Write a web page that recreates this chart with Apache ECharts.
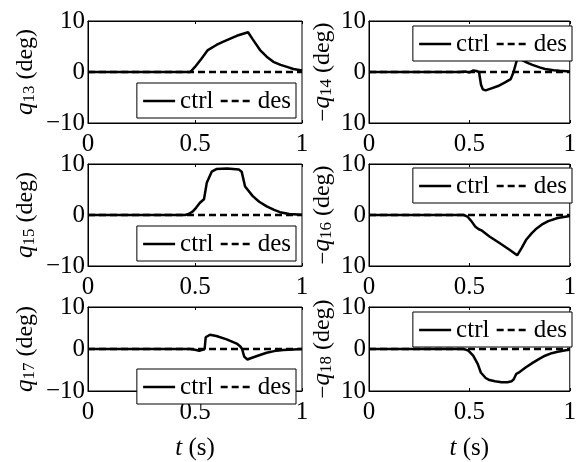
<!DOCTYPE html>
<html>
<head>
<meta charset="utf-8">
<script src="https://cdn.jsdelivr.net/npm/echarts@6/dist/echarts.min.js"></script>
<style>
html,body{margin:0;padding:0;background:#fff;}
#c{width:579px;height:462px;}
</style>
</head>
<body>
<div id="c"></div>
<script>
// ---- data (t in s, angle in deg) ----
const joints = ['13', '14', '15', '16', '17', '18'];
const xTicks = [0, 0.5, 1];
const yTicksLeft = { '-10': '−10', '0': '0', '10': '10' };
const yTicksRight = { '-10': '10', '0': '0', '10': '10' };
const legendNames = ['ctrl', 'des'];

const q13 = [[0,0],[0.478,0],[0.50,1.0],[0.53,2.6],[0.56,4.3],[0.60,5.3],[0.63,5.9],[0.695,7.1],[0.748,7.8],[0.77,6.4],[0.804,4.3],[0.835,3.0],[0.866,2.0],[0.90,1.4],[0.93,1.0],[0.96,0.6],[1,0.3]];
const q14 = [[0,0],[0.45,0],[0.48,0.1],[0.50,-0.1],[0.52,0.3],[0.535,0.2],[0.548,0],[0.558,-2.5],[0.567,-3.4],[0.581,-3.6],[0.61,-3.2],[0.643,-2.75],[0.68,-2.0],[0.706,-1.4],[0.72,0],[0.737,2.4],[0.75,2.9],[0.765,2.3],[0.79,1.8],[0.814,1.4],[0.85,0.9],[0.877,0.6],[0.92,0.35],[0.95,0.25],[1,0.1]];
const q15 = [[0,0],[0.453,0],[0.47,0.2],[0.49,0.7],[0.505,1.4],[0.523,2.4],[0.542,3.1],[0.555,6.3],[0.578,8.5],[0.60,9.0],[0.65,9.1],[0.705,8.9],[0.718,8.5],[0.734,5.6],[0.77,3.7],[0.80,2.6],[0.835,1.7],[0.87,1.0],[0.897,0.55],[0.94,0.2],[1,0.05]];
const q16 = [[0,0],[0.472,0],[0.49,-0.3],[0.51,-1.2],[0.53,-2.3],[0.547,-2.8],[0.56,-3.0],[0.60,-4.2],[0.65,-5.5],[0.70,-6.8],[0.738,-7.9],[0.76,-6.5],[0.784,-4.8],[0.81,-3.6],[0.83,-2.8],[0.86,-1.9],[0.893,-1.2],[0.94,-0.6],[1,-0.2]];
const q17 = [[0,0],[0.477,0],[0.50,-0.2],[0.52,-0.4],[0.535,-0.2],[0.545,0],[0.55,2.8],[0.57,3.4],[0.60,3.1],[0.648,2.3],[0.695,1.3],[0.712,0.6],[0.72,0],[0.73,-1.8],[0.745,-2.5],[0.76,-2.2],[0.80,-1.5],[0.835,-0.9],[0.87,-0.5],[0.912,-0.25],[0.96,-0.1],[1,0]];
const q18 = [[0,0],[0.472,0],[0.495,-0.4],[0.519,-1.6],[0.542,-3.6],[0.557,-5.6],[0.581,-6.9],[0.60,-7.4],[0.628,-7.7],[0.66,-7.9],[0.69,-7.9],[0.71,-7.7],[0.721,-7.2],[0.734,-5.9],[0.75,-5.5],[0.78,-4.4],[0.815,-3.3],[0.85,-2.3],[0.877,-1.6],[0.91,-1.0],[0.94,-0.65],[0.98,-0.3],[1,-0.2]];
const desired = [[0,0],[1,0]];
const ctrlData = [q13, q14, q15, q16, q17, q18];

// ---- layout ----
const FONT = "'Liberation Serif', 'Times New Roman', Times, serif";
const colLeft = [88, 369];
const rowTop = [21, 164, 307];
const plotW = 214, plotH = 102;
const legendPos = [
  {right: 283, top: 83}, {right: 7, top: 26},
  {right: 283, top: 226}, {right: 7, top: 168},
  {right: 283, top: 369}, {right: 7, top: 312}
];

const grids = [], xAxes = [], yAxes = [], series = [], legends = [];
for (let i = 0; i < 6; i++) {
  const col = i % 2, row = Math.floor(i / 2);
  grids.push({left: colLeft[col], top: rowTop[row], width: plotW, height: plotH,
    show: true, borderColor: '#000', borderWidth: 1, backgroundColor: 'transparent'});
  xAxes.push({
    gridIndex: i, type: 'value', min: xTicks[0], max: xTicks[2], interval: 0.5,
    axisLine: {show: true, onZero: false, lineStyle: {color: '#000', width: 1}},
    axisTick: {show: true, inside: true, length: 3, lineStyle: {color: '#000'}},
    axisLabel: {color: '#000', fontFamily: FONT, fontSize: 25, margin: 9,
      formatter: v => String(v)},
    splitLine: {show: false},
    name: row === 2 ? '{t|t} (s)' : '',
    nameLocation: 'middle', nameGap: 45,
    nameTextStyle: {color: '#000', fontFamily: FONT, fontSize: 25,
      rich: {t: {fontStyle: 'italic', fontFamily: FONT, fontSize: 25, color: '#000'}}}
  });
  xAxes.push({
    gridIndex: i, type: 'value', position: 'top', min: 0, max: 1, interval: 0.5,
    axisLine: {show: true, onZero: false, lineStyle: {color: '#000', width: 1}},
    axisTick: {show: true, inside: true, length: 3, lineStyle: {color: '#000'}},
    axisLabel: {show: false}, splitLine: {show: false}
  });
  const tickMap = col === 0 ? yTicksLeft : yTicksRight;
  yAxes.push({
    gridIndex: i, type: 'value', min: -10, max: 10, interval: 10,
    axisLine: {show: true, onZero: false, lineStyle: {color: '#000', width: 1}},
    axisTick: {show: true, inside: true, length: 3, lineStyle: {color: '#000'}},
    axisLabel: {color: '#000', fontFamily: FONT, fontSize: 25, margin: 3,
      formatter: v => tickMap[String(v)]},
    splitLine: {show: false},
    name: (col === 1 ? '{m|−}' : '') + '{q|q}{s|' + joints[i] + '}{n| (deg)}',
    nameLocation: 'middle', nameRotate: 90,
    nameGap: col === 0 ? 50 : 34,
    nameTextStyle: {color: '#000', fontFamily: FONT, fontSize: 23,
      rich: {
        m: {fontFamily: FONT, fontSize: 23, color: '#000', verticalAlign: 'bottom', lineHeight: 24},
        q: {fontStyle: 'italic', fontFamily: FONT, fontSize: 25, color: '#000', verticalAlign: 'bottom', lineHeight: 24},
        s: {fontFamily: FONT, fontSize: 17, color: '#000', verticalAlign: 'bottom', lineHeight: 10},
        n: {fontFamily: FONT, fontSize: 24, color: '#000', verticalAlign: 'bottom', lineHeight: 24}
      }}
  });
  series.push({
    name: legendNames[0], type: 'line', xAxisIndex: 2 * i, yAxisIndex: i,
    data: ctrlData[i], symbol: 'none', smooth: false, z: 3,
    lineStyle: {color: '#000', width: 2.5}, itemStyle: {color: '#000'}
  });
  series.push({
    name: legendNames[1], type: 'line', xAxisIndex: 2 * i, yAxisIndex: i,
    data: desired, symbol: 'none', z: 4,
    lineStyle: {color: '#000', width: 2.5, type: [7, 4]}, itemStyle: {color: '#000'}
  });
  legends.push({
    data: legendNames, top: legendPos[i].top, right: legendPos[i].right,
    orient: 'horizontal', selectedMode: false,
    itemWidth: 32, itemHeight: 14, itemGap: 6,
    padding: [5, 5, 4, 5],
    backgroundColor: '#fff', borderColor: '#000', borderWidth: 1,
    itemStyle: {opacity: 0},
    lineStyle: {width: 2.5},
    textStyle: {color: '#000', fontFamily: FONT, fontSize: 25, lineHeight: 26},
    z: 10
  });
}

const chart = echarts.init(document.getElementById('c'), null, {renderer: 'canvas'});
chart.setOption({
  animation: false,
  backgroundColor: '#fff',
  grid: grids, xAxis: xAxes, yAxis: yAxes, series: series, legend: legends
});
</script>
</body>
</html>
